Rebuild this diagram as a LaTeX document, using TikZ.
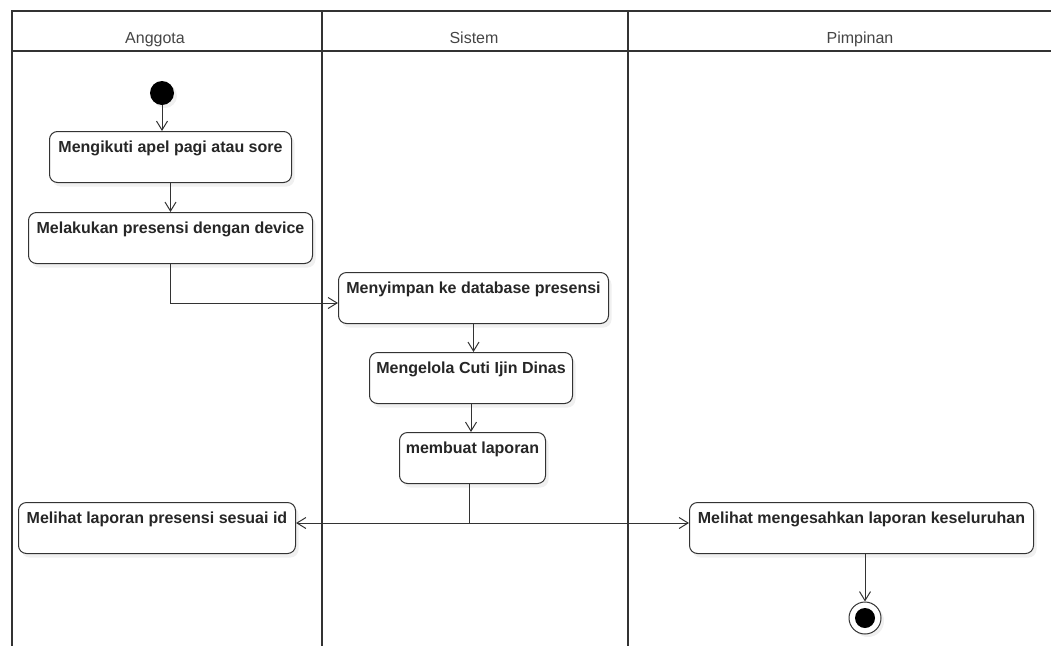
\documentclass[tikz,border=0pt]{standalone}
\usepackage{fontspec}
\setmainfont{Liberation Sans}
\usetikzlibrary{arrows.meta,shadows}
\definecolor{ln}{HTML}{333333}
\definecolor{tx}{HTML}{262626}
\definecolor{hd}{HTML}{454545}
\tikzset{
  lane/.style={draw=ln, line width=1.4pt},
  act/.style={draw=ln, line width=1pt, rounded corners=8pt, fill=white,
    drop shadow={opacity=0.12, shadow xshift=3pt, shadow yshift=-4pt},
    font=\fontsize{16}{19}\selectfont\bfseries, text=tx,
    inner xsep=0pt, inner ysep=0pt, text height=21pt, text depth=30pt,
    anchor=north west},
  hdr/.style={font=\fontsize{16}{19}\selectfont, text=hd, anchor=base},
  flow/.style={draw=ln, line width=1pt, -{Straight Barb[length=9pt,width=11pt]}},
  plain/.style={draw=ln, line width=1pt},
}
\begin{document}
\begin{tikzpicture}[x=1pt,y=-1pt]
\useasboundingbox (0,0) rectangle (1051,646);
% swimlanes
\draw[lane] (1051,11) -- (12,11) -- (12,646);
\draw[lane] (12,51) -- (1051,51);
\draw[lane] (322,11) -- (322,646);
\draw[lane] (628,11) -- (628,646);
\node[hdr] (h1) at (155,43) {Anggota};
\node[hdr] (h2) at (474,43) {Sistem};
\node[hdr] (h3) at (860,43) {Pimpinan};
% start / end
\node[circle, fill=black, minimum size=24pt, inner sep=0pt,
  drop shadow={opacity=0.12, shadow xshift=3pt, shadow yshift=-3pt}] (start) at (162,93) {};
\node[circle, draw=ln, line width=1pt, fill=white, minimum size=32pt, inner sep=0pt,
  drop shadow={opacity=0.12, shadow xshift=3pt, shadow yshift=-3pt}] (end) at (865,618) {};
\node[circle, fill=black, minimum size=20pt, inner sep=0pt] (endin) at (end) {};
% activities
\node[act, minimum width=242pt] (b1) at (49,131) {Mengikuti apel pagi atau sore};
\node[act, minimum width=284pt] (b2) at (28,212) {Melakukan presensi dengan device};
\node[act, minimum width=270pt] (b3) at (338,272) {Menyimpan ke database presensi};
\node[act, minimum width=203pt] (b4) at (369,352) {Mengelola Cuti Ijin Dinas};
\node[act, minimum width=146pt] (b5) at (399,432) {membuat laporan};
\node[act, minimum width=277pt] (b6) at (18,502) {Melihat laporan presensi sesuai id};
\node[act, minimum width=344pt] (b7) at (689,502) {Melihat mengesahkan laporan keseluruhan};
% connectors
\draw[flow] (start) -- (start |- b1.north);
\draw[flow] (b1) -- (b2);
\draw[flow] (b2.south) |- ([yshift=-5pt]b3.west);
\draw[flow] (b3.south) -- (b3.south |- b4.north);
\draw[flow] (b4.south) -- (b4.south |- b5.north);
\coordinate (fork) at (469,523);
\draw[plain] (fork |- b5.south) -- (fork);
\draw[flow] (fork) -- (fork -| b6.east);
\draw[flow] (fork) -- (fork -| b7.west);
\draw[flow] (b7.south -| end) -- (end.north);
\end{tikzpicture}
\end{document}
